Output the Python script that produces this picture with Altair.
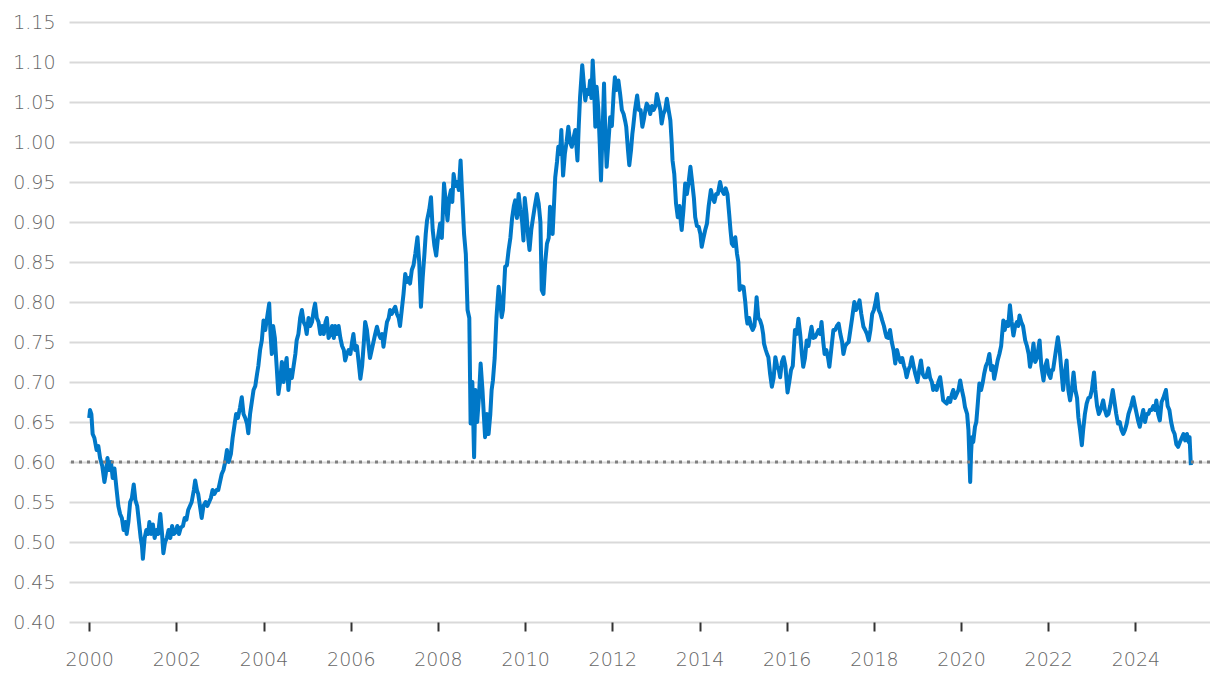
import datetime as dt
import altair as alt
import pandas as pd

# (decimal year, AUD/USD) readings, grouped by period
p_2000_2003 = [
    (2000.00, 0.655), (2000.02, 0.665), (2000.05, 0.660), (2000.08, 0.635), (2000.12, 0.630),
    (2000.17, 0.615), (2000.21, 0.620), (2000.25, 0.605), (2000.30, 0.595), (2000.35, 0.575),
    (2000.38, 0.585), (2000.42, 0.605), (2000.46, 0.590), (2000.50, 0.600), (2000.54, 0.580),
    (2000.58, 0.592), (2000.63, 0.565), (2000.67, 0.545), (2000.71, 0.535), (2000.75, 0.530),
    (2000.79, 0.515), (2000.83, 0.525), (2000.86, 0.510), (2000.90, 0.525), (2000.94, 0.550),
    (2000.98, 0.555), (2001.02, 0.572), (2001.06, 0.552), (2001.10, 0.545), (2001.14, 0.525),
    (2001.18, 0.505), (2001.21, 0.495), (2001.23, 0.479), (2001.27, 0.505), (2001.31, 0.515),
    (2001.35, 0.510), (2001.38, 0.525), (2001.42, 0.510), (2001.46, 0.522), (2001.50, 0.505),
    (2001.54, 0.515), (2001.58, 0.510), (2001.63, 0.535), (2001.67, 0.510), (2001.70, 0.486),
    (2001.74, 0.500), (2001.78, 0.505), (2001.82, 0.515), (2001.86, 0.505), (2001.90, 0.520),
    (2001.94, 0.510), (2001.98, 0.512), (2002.02, 0.520), (2002.06, 0.510), (2002.10, 0.518),
    (2002.15, 0.520), (2002.19, 0.530), (2002.23, 0.528), (2002.27, 0.540), (2002.31, 0.545),
    (2002.35, 0.550), (2002.40, 0.565), (2002.43, 0.577), (2002.47, 0.565), (2002.50, 0.560),
    (2002.54, 0.545), (2002.58, 0.530), (2002.62, 0.545), (2002.67, 0.550), (2002.71, 0.545),
    (2002.75, 0.550), (2002.79, 0.555), (2002.83, 0.565), (2002.87, 0.560), (2002.92, 0.565),
    (2002.96, 0.565), (2003.00, 0.575), (2003.04, 0.585), (2003.08, 0.590), (2003.12, 0.600),
    (2003.16, 0.615), (2003.20, 0.600), (2003.25, 0.610), (2003.29, 0.630), (2003.33, 0.645),
    (2003.37, 0.660), (2003.41, 0.655), (2003.46, 0.668), (2003.50, 0.681), (2003.54, 0.660),
    (2003.58, 0.655), (2003.62, 0.648), (2003.65, 0.636), (2003.69, 0.660), (2003.73, 0.675),
    (2003.77, 0.690), (2003.81, 0.695), (2003.85, 0.710), (2003.88, 0.720), (2003.92, 0.740),
    (2003.96, 0.752),
]

p_2004_2007 = [
    (2004.00, 0.777), (2004.04, 0.765), (2004.08, 0.780), (2004.13, 0.798), (2004.16, 0.760),
    (2004.19, 0.735), (2004.22, 0.770), (2004.26, 0.755), (2004.30, 0.720), (2004.34, 0.685),
    (2004.38, 0.700), (2004.42, 0.725), (2004.46, 0.700), (2004.50, 0.720), (2004.53, 0.730),
    (2004.57, 0.690), (2004.61, 0.715), (2004.65, 0.705), (2004.69, 0.720), (2004.73, 0.735),
    (2004.76, 0.752), (2004.80, 0.760), (2004.84, 0.780), (2004.88, 0.790), (2004.92, 0.775),
    (2004.96, 0.770), (2004.99, 0.760), (2005.03, 0.780), (2005.07, 0.770), (2005.11, 0.775),
    (2005.15, 0.790), (2005.18, 0.798), (2005.22, 0.780), (2005.26, 0.775), (2005.30, 0.760),
    (2005.34, 0.770), (2005.38, 0.760), (2005.42, 0.775), (2005.45, 0.780), (2005.49, 0.755),
    (2005.53, 0.760), (2005.57, 0.770), (2005.61, 0.755), (2005.64, 0.770), (2005.68, 0.760),
    (2005.72, 0.770), (2005.76, 0.755), (2005.80, 0.745), (2005.84, 0.740), (2005.87, 0.727),
    (2005.91, 0.735), (2005.95, 0.740), (2005.99, 0.735), (2006.03, 0.750), (2006.06, 0.760),
    (2006.10, 0.740), (2006.14, 0.745), (2006.18, 0.725), (2006.22, 0.704), (2006.26, 0.720),
    (2006.30, 0.750), (2006.33, 0.775), (2006.37, 0.765), (2006.41, 0.745), (2006.44, 0.730),
    (2006.48, 0.740), (2006.52, 0.750), (2006.56, 0.760), (2006.60, 0.769), (2006.64, 0.760),
    (2006.68, 0.755), (2006.72, 0.760), (2006.75, 0.744), (2006.79, 0.760), (2006.83, 0.775),
    (2006.87, 0.780), (2006.90, 0.790), (2006.94, 0.785), (2006.98, 0.790), (2007.02, 0.794),
    (2007.06, 0.785), (2007.10, 0.780), (2007.13, 0.770), (2007.17, 0.790), (2007.21, 0.810),
    (2007.25, 0.835), (2007.29, 0.825), (2007.33, 0.830), (2007.36, 0.823), (2007.40, 0.840),
    (2007.44, 0.846), (2007.48, 0.860), (2007.53, 0.881), (2007.57, 0.850), (2007.61, 0.794),
    (2007.65, 0.830), (2007.69, 0.860), (2007.72, 0.885), (2007.75, 0.902), (2007.80, 0.915),
    (2007.84, 0.931), (2007.88, 0.890), (2007.92, 0.870), (2007.96, 0.858),
]

p_2008_2011 = [
    (2008.00, 0.880), (2008.05, 0.898), (2008.09, 0.880), (2008.14, 0.948), (2008.18, 0.925),
    (2008.22, 0.902), (2008.26, 0.930), (2008.30, 0.940), (2008.33, 0.925), (2008.36, 0.960),
    (2008.40, 0.945), (2008.44, 0.950), (2008.48, 0.940), (2008.52, 0.977), (2008.56, 0.930),
    (2008.60, 0.885), (2008.64, 0.860), (2008.68, 0.790), (2008.72, 0.780), (2008.75, 0.648),
    (2008.79, 0.700), (2008.83, 0.606), (2008.86, 0.690), (2008.90, 0.650), (2008.94, 0.680),
    (2008.98, 0.723), (2009.02, 0.690), (2009.05, 0.660), (2009.08, 0.631), (2009.12, 0.660),
    (2009.16, 0.635), (2009.20, 0.660), (2009.23, 0.690), (2009.26, 0.702), (2009.30, 0.730),
    (2009.34, 0.780), (2009.39, 0.819), (2009.43, 0.800), (2009.46, 0.781), (2009.49, 0.790),
    (2009.54, 0.844), (2009.58, 0.846), (2009.62, 0.865), (2009.66, 0.880), (2009.70, 0.905),
    (2009.74, 0.920), (2009.77, 0.927), (2009.81, 0.905), (2009.85, 0.935), (2009.89, 0.915),
    (2009.93, 0.900), (2009.96, 0.877), (2009.99, 0.930), (2010.03, 0.910), (2010.07, 0.880),
    (2010.10, 0.865), (2010.14, 0.890), (2010.18, 0.905), (2010.22, 0.919), (2010.27, 0.935),
    (2010.31, 0.923), (2010.35, 0.900), (2010.38, 0.815), (2010.42, 0.810), (2010.46, 0.850),
    (2010.50, 0.873), (2010.54, 0.880), (2010.57, 0.919), (2010.60, 0.900), (2010.63, 0.885),
    (2010.66, 0.920), (2010.69, 0.956), (2010.73, 0.975), (2010.76, 0.994), (2010.80, 0.985),
    (2010.83, 1.015), (2010.87, 0.958), (2010.91, 0.985), (2010.95, 1.000), (2010.99, 1.019),
    (2011.03, 1.000), (2011.07, 0.994), (2011.11, 1.005), (2011.15, 1.015), (2011.20, 0.977),
    (2011.23, 1.020), (2011.26, 1.056), (2011.31, 1.096), (2011.35, 1.070), (2011.38, 1.052),
    (2011.42, 1.065), (2011.46, 1.060), (2011.49, 1.077), (2011.52, 1.055), (2011.55, 1.102),
    (2011.58, 1.070), (2011.61, 1.019), (2011.64, 1.069), (2011.68, 1.040), (2011.71, 1.000),
    (2011.74, 0.952), (2011.78, 1.020), (2011.81, 1.073), (2011.84, 1.010), (2011.87, 0.969),
    (2011.91, 1.000), (2011.95, 1.031), (2011.99, 1.020),
]

p_2012_2015 = [
    (2012.03, 1.060), (2012.06, 1.081), (2012.10, 1.065), (2012.14, 1.077), (2012.18, 1.060),
    (2012.22, 1.040), (2012.26, 1.035), (2012.30, 1.025), (2012.32, 1.019), (2012.36, 0.990),
    (2012.39, 0.971), (2012.43, 0.990), (2012.46, 1.010), (2012.48, 1.019), (2012.52, 1.040),
    (2012.57, 1.058), (2012.61, 1.040), (2012.65, 1.040), (2012.69, 1.019), (2012.73, 1.030),
    (2012.76, 1.040), (2012.79, 1.048), (2012.83, 1.044), (2012.87, 1.035), (2012.91, 1.045),
    (2012.95, 1.040), (2012.99, 1.045), (2013.02, 1.060), (2013.06, 1.050), (2013.10, 1.040),
    (2013.13, 1.023), (2013.17, 1.035), (2013.21, 1.040), (2013.25, 1.054), (2013.29, 1.040),
    (2013.33, 1.027), (2013.36, 1.000), (2013.38, 0.977), (2013.42, 0.960), (2013.46, 0.923),
    (2013.50, 0.906), (2013.54, 0.920), (2013.57, 0.900), (2013.59, 0.890), (2013.63, 0.915),
    (2013.67, 0.948), (2013.71, 0.935), (2013.75, 0.950), (2013.79, 0.969), (2013.83, 0.950),
    (2013.87, 0.930), (2013.90, 0.906), (2013.94, 0.895), (2013.98, 0.894), (2014.02, 0.885),
    (2014.05, 0.869), (2014.09, 0.880), (2014.13, 0.890), (2014.17, 0.898), (2014.21, 0.920),
    (2014.26, 0.940), (2014.30, 0.930), (2014.34, 0.925), (2014.38, 0.935), (2014.42, 0.935),
    (2014.47, 0.950), (2014.51, 0.940), (2014.56, 0.935), (2014.60, 0.942), (2014.64, 0.935),
    (2014.68, 0.910), (2014.71, 0.890), (2014.74, 0.873), (2014.78, 0.870), (2014.82, 0.881),
    (2014.86, 0.860), (2014.89, 0.850), (2014.92, 0.815), (2014.96, 0.820), (2015.01, 0.819),
    (2015.05, 0.800), (2015.08, 0.780), (2015.10, 0.773), (2015.14, 0.780), (2015.18, 0.770),
    (2015.22, 0.765), (2015.26, 0.770), (2015.29, 0.790), (2015.31, 0.806), (2015.35, 0.780),
    (2015.39, 0.777), (2015.43, 0.770), (2015.46, 0.760), (2015.48, 0.748), (2015.52, 0.740),
    (2015.55, 0.735), (2015.58, 0.731), (2015.62, 0.710), (2015.66, 0.694), (2015.70, 0.705),
    (2015.74, 0.731), (2015.78, 0.720), (2015.82, 0.715), (2015.85, 0.706), (2015.89, 0.725),
    (2015.93, 0.731), (2015.97, 0.720),
]

p_2016_2019 = [
    (2016.02, 0.687), (2016.06, 0.700), (2016.10, 0.715), (2016.14, 0.720), (2016.19, 0.765),
    (2016.23, 0.760), (2016.27, 0.779), (2016.31, 0.760), (2016.35, 0.735), (2016.38, 0.719),
    (2016.42, 0.730), (2016.46, 0.752), (2016.50, 0.745), (2016.54, 0.760), (2016.57, 0.769),
    (2016.61, 0.755), (2016.65, 0.756), (2016.69, 0.760), (2016.73, 0.765), (2016.77, 0.760),
    (2016.80, 0.775), (2016.84, 0.750), (2016.87, 0.735), (2016.91, 0.740), (2016.95, 0.730),
    (2016.98, 0.719), (2017.03, 0.745), (2017.07, 0.765), (2017.11, 0.765), (2017.15, 0.770),
    (2017.19, 0.773), (2017.23, 0.760), (2017.27, 0.750), (2017.30, 0.735), (2017.34, 0.745),
    (2017.38, 0.748), (2017.42, 0.750), (2017.46, 0.765), (2017.50, 0.780), (2017.55, 0.800),
    (2017.59, 0.790), (2017.63, 0.795), (2017.67, 0.802), (2017.71, 0.785), (2017.76, 0.769),
    (2017.80, 0.765), (2017.84, 0.760), (2017.88, 0.752), (2017.92, 0.765), (2017.96, 0.785),
    (2018.00, 0.790), (2018.04, 0.800), (2018.07, 0.810), (2018.11, 0.790), (2018.15, 0.785),
    (2018.19, 0.777), (2018.23, 0.770), (2018.27, 0.760), (2018.29, 0.756), (2018.33, 0.755),
    (2018.37, 0.765), (2018.41, 0.750), (2018.45, 0.740), (2018.49, 0.723), (2018.53, 0.740),
    (2018.57, 0.731), (2018.61, 0.725), (2018.65, 0.730), (2018.69, 0.720), (2018.72, 0.715),
    (2018.75, 0.706), (2018.79, 0.715), (2018.83, 0.720), (2018.87, 0.731), (2018.91, 0.720),
    (2018.95, 0.710), (2019.00, 0.700), (2019.04, 0.715), (2019.08, 0.727), (2019.12, 0.710),
    (2019.16, 0.706), (2019.20, 0.706), (2019.25, 0.717), (2019.29, 0.705), (2019.33, 0.700),
    (2019.36, 0.690), (2019.40, 0.695), (2019.44, 0.690), (2019.48, 0.700), (2019.52, 0.706),
    (2019.56, 0.690), (2019.59, 0.677), (2019.63, 0.675), (2019.67, 0.673), (2019.71, 0.680),
    (2019.75, 0.675), (2019.79, 0.685), (2019.82, 0.690), (2019.86, 0.680), (2019.90, 0.685),
    (2019.94, 0.690), (2019.98, 0.702),
]

p_2020_2025 = [
    (2020.02, 0.690), (2020.06, 0.680), (2020.09, 0.669), (2020.14, 0.660), (2020.17, 0.640),
    (2020.21, 0.575), (2020.23, 0.610), (2020.25, 0.631), (2020.28, 0.625), (2020.32, 0.644),
    (2020.35, 0.650), (2020.38, 0.670), (2020.42, 0.698), (2020.46, 0.690), (2020.50, 0.700),
    (2020.53, 0.710), (2020.57, 0.720), (2020.61, 0.725), (2020.65, 0.735), (2020.69, 0.715),
    (2020.73, 0.720), (2020.76, 0.704), (2020.80, 0.715), (2020.84, 0.727), (2020.88, 0.735),
    (2020.92, 0.745), (2020.97, 0.777), (2021.00, 0.765), (2021.04, 0.775), (2021.08, 0.770),
    (2021.12, 0.796), (2021.16, 0.775), (2021.20, 0.758), (2021.24, 0.770), (2021.28, 0.775),
    (2021.31, 0.770), (2021.34, 0.783), (2021.38, 0.775), (2021.42, 0.770), (2021.47, 0.752),
    (2021.51, 0.745), (2021.55, 0.735), (2021.58, 0.719), (2021.62, 0.730), (2021.66, 0.748),
    (2021.70, 0.725), (2021.74, 0.730), (2021.78, 0.745), (2021.80, 0.752), (2021.84, 0.720),
    (2021.89, 0.702), (2021.93, 0.720), (2021.97, 0.727), (2022.01, 0.710), (2022.05, 0.705),
    (2022.08, 0.715), (2022.11, 0.715), (2022.15, 0.730), (2022.19, 0.745), (2022.22, 0.756),
    (2022.26, 0.740), (2022.30, 0.715), (2022.34, 0.690), (2022.38, 0.710), (2022.42, 0.727),
    (2022.46, 0.690), (2022.50, 0.677), (2022.54, 0.690), (2022.58, 0.712), (2022.62, 0.690),
    (2022.66, 0.680), (2022.69, 0.656), (2022.73, 0.640), (2022.77, 0.621), (2022.80, 0.640),
    (2022.84, 0.660), (2022.88, 0.673), (2022.92, 0.680), (2022.96, 0.681), (2023.00, 0.690),
    (2023.05, 0.712), (2023.08, 0.690), (2023.12, 0.670), (2023.16, 0.660), (2023.20, 0.665),
    (2023.26, 0.677), (2023.30, 0.665), (2023.34, 0.658), (2023.38, 0.660), (2023.42, 0.670),
    (2023.48, 0.690), (2023.52, 0.675), (2023.56, 0.660), (2023.60, 0.648), (2023.64, 0.650),
    (2023.68, 0.640), (2023.72, 0.635), (2023.76, 0.640), (2023.80, 0.648), (2023.84, 0.660),
    (2023.90, 0.670), (2023.95, 0.681), (2023.99, 0.670), (2024.03, 0.660), (2024.06, 0.652),
    (2024.10, 0.644), (2024.14, 0.655), (2024.18, 0.665), (2024.22, 0.650), (2024.26, 0.660),
    (2024.30, 0.660), (2024.33, 0.665), (2024.37, 0.665), (2024.41, 0.670), (2024.45, 0.665),
    (2024.48, 0.677), (2024.52, 0.660), (2024.56, 0.652), (2024.60, 0.675), (2024.64, 0.680),
    (2024.70, 0.690), (2024.74, 0.670), (2024.78, 0.665), (2024.82, 0.650), (2024.86, 0.640),
    (2024.90, 0.635), (2024.94, 0.622), (2024.98, 0.619), (2025.02, 0.625), (2025.06, 0.630),
    (2025.10, 0.635), (2025.14, 0.627), (2025.18, 0.635), (2025.22, 0.625), (2025.24, 0.631),
    (2025.27, 0.596),
]

reference_level = 0.60
tick_years = list(range(2000, 2025, 2))
y_ticks = [round(0.40 + 0.05 * i, 2) for i in range(16)]


def to_date(t):
    y = int(t)
    d = dt.datetime(y, 1, 1) + dt.timedelta(days=(t - y) * 365.25)
    return d.strftime("%Y-%m-%dT%H:%M:%S")


rows = []
for period in (p_2000_2003, p_2004_2007, p_2008_2011, p_2012_2015, p_2016_2019, p_2020_2025):
    for t, v in period:
        rows.append({"date": to_date(t), "value": v})
df = pd.DataFrame(rows)

FONT = "DejaVu Sans"
x_scale = alt.Scale(domain=[alt.DateTime(year=1999, month=7, date=16),
                            alt.DateTime(year=2025, month=9, date=17)])
y_scale = alt.Scale(domain=[0.40, 1.15], nice=False, zero=False)
y_axis = alt.Axis(values=y_ticks, format=".2f", grid=True, gridColor="#d9d9d9",
                  gridWidth=2, domain=False, ticks=False, labelFontSize=19,
                  labelColor="#666666", labelPadding=14, labelFont=FONT,
                  labelFontWeight=300, labelOverlap=False, labelFlush=False)

line = alt.Chart(df).mark_line(color="#0078C8", strokeWidth=4, strokeJoin="round").encode(
    x=alt.X("date:T", scale=x_scale, title=None,
            axis=alt.Axis(values=[alt.DateTime(year=y) for y in tick_years], format="%Y",
                          grid=False, domain=False, ticks=True, tickSize=9, tickWidth=2,
                          tickColor="#333333", labelFontSize=19, labelColor="#666666",
                          labelPadding=19, labelFont=FONT, labelFontWeight=300,
                          labelOverlap=False)),
    y=alt.Y("value:Q", scale=y_scale, title=None, axis=y_axis),
)

rule = alt.Chart(pd.DataFrame({"value": [reference_level]})).mark_rule(
    color="#808080", strokeWidth=3, strokeDash=[3, 5]
).encode(y=alt.Y("value:Q", scale=y_scale, title=None, axis=y_axis))

chart = alt.layer(line, rule).properties(
    width=1141, height=600,
    autosize=alt.AutoSizeParams(type="none"),
    padding={"left": 61, "top": 14, "right": 0, "bottom": 46},
).configure_view(stroke=None)

chart.save("out.html", embed_options={"renderer": "svg", "actions": False})
